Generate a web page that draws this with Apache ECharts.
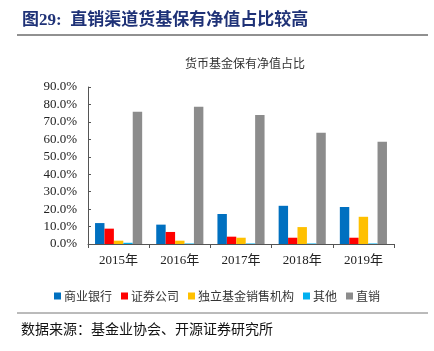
<html>
<head>
    <meta charset="utf-8" />
    <title>货币基金保有净值占比</title>
    <script src="https://cdnjs.cloudflare.com/ajax/libs/echarts/6.0.0/echarts.min.js"></script>
    <style>
        body { margin: 0; background: #fff; }
    </style>
</head>
<body>
    <div id="main" style="width: 434px;height:351px;"></div>
    <script type="text/javascript">
        var years = ['2015年', '2016年', '2017年', '2018年', '2019年'];
        var seriesNames = ['商业银行', '证券公司', '独立基金销售机构', '其他', '直销'];
        var bank = [12.0, 11.1, 17.2, 21.9, 21.2];
        var broker = [8.8, 6.9, 4.2, 3.6, 3.6];
        var independent = [1.9, 1.9, 3.6, 9.7, 15.6];
        var others = [0.7, 0.3, 0.3, 0.3, 0.3];
        var direct = [75.8, 78.7, 73.9, 63.8, 58.6];
        var colors = ['#0070C0', '#FF0000', '#FFC000', '#00B0F0', '#8C8C8C'];

        var serifFont = '"Liberation Serif", "Noto Sans CJK SC", serif';
        var cjkFont = '"Noto Sans CJK SC", sans-serif';

        var chart = echarts.init(document.getElementById('main'));
        var data = [bank, broker, independent, others, direct];
        var series = data.map(function (vals, i) {
            return {
                name: seriesNames[i],
                type: 'bar',
                data: vals,
                barGap: '0%',
                barCategoryGap: '23%',
                itemStyle: { color: colors[i] }
            };
        });

        var option = {
            animation: false,
            title: [
                {
                    text: '图29:  直销渠道货基保有净值占比较高',
                    left: 17, top: 7,
                    textStyle: { fontFamily: serifFont, fontSize: 17, fontWeight: 'bold', color: '#1F3277' }
                },
                {
                    text: '货币基金保有净值占比',
                    left: 240, top: 52, textAlign: 'center',
                    textStyle: { fontFamily: cjkFont, fontSize: 12, fontWeight: 'normal', color: '#333' }
                },
                {
                    text: '数据来源：基金业协会、开源证券研究所',
                    left: 16, top: 317,
                    textStyle: { fontFamily: cjkFont, fontSize: 14, fontWeight: 'normal', color: '#111' }
                }
            ],
            legend: {
                top: 285, left: 'center',
                itemWidth: 7, itemHeight: 7, itemGap: 9,
                icon: 'rect',
                textStyle: { fontFamily: cjkFont, fontSize: 12, color: '#333', padding: [0, 0, 0, -2] },
                data: seriesNames
            },
            grid: { left: 88, right: 40, top: 87, bottom: 107 },
            xAxis: {
                type: 'category',
                data: years,
                axisLine: { lineStyle: { color: '#555' } },
                axisTick: { show: true, length: 4, lineStyle: { color: '#555' } },
                axisLabel: { fontFamily: serifFont, fontSize: 13, color: '#222', margin: 10 }
            },
            yAxis: {
                type: 'value',
                min: 0, max: 90, interval: 10,
                splitLine: { show: false },
                axisLine: { show: true, lineStyle: { color: '#555' } },
                axisTick: { show: true, inside: true, length: 3, lineStyle: { color: '#555' } },
                axisLabel: {
                    fontFamily: serifFont, fontSize: 13, color: '#222', margin: 11,
                    formatter: function (v) { return v.toFixed(1) + '%'; }
                }
            },
            graphic: [
                { type: 'line', shape: { x1: 17, y1: 35, x2: 428, y2: 35 }, style: { stroke: '#222', lineWidth: 1 } },
                { type: 'line', shape: { x1: 17, y1: 313, x2: 428, y2: 313 }, style: { stroke: '#777', lineWidth: 1 } }
            ],
            series: series
        };
        chart.setOption(option);
    </script>
</body>
</html>
